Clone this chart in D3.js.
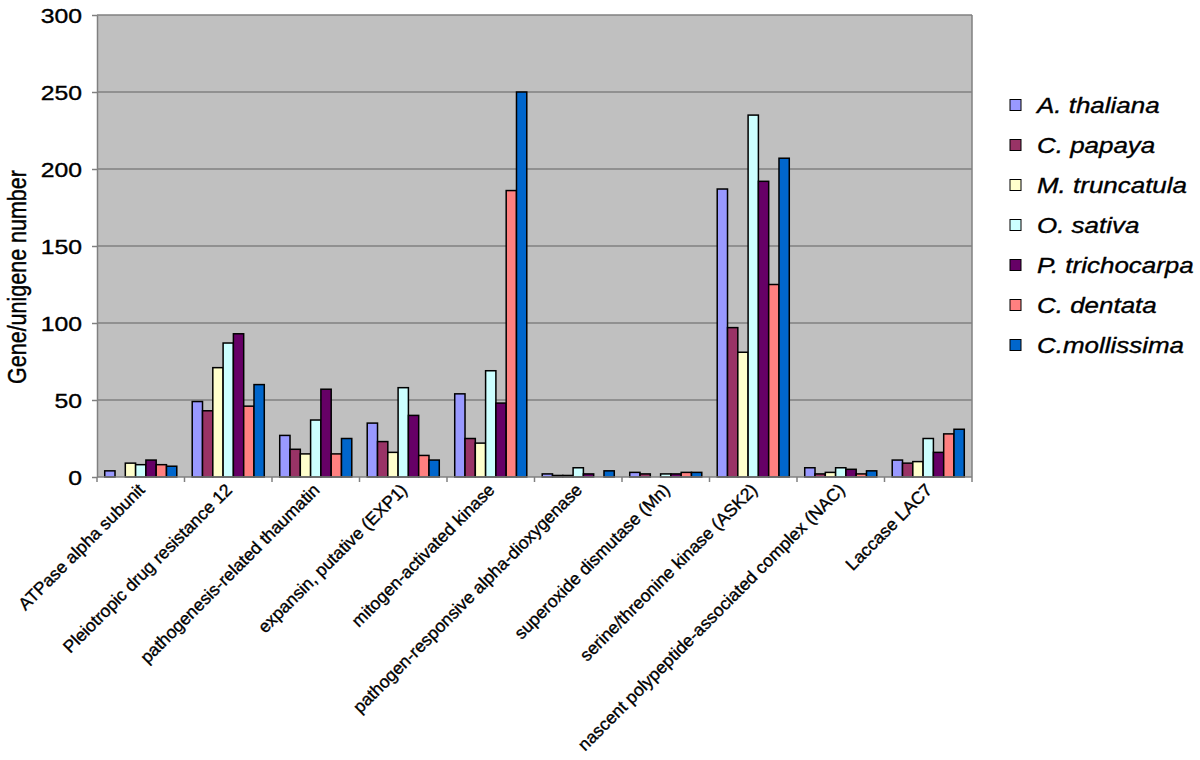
<!DOCTYPE html>
<html>
<head>
<meta charset="utf-8">
<script src="https://cdn.jsdelivr.net/npm/d3@7"></script>
<style>
  html, body { margin: 0; padding: 0; background: #fff; }
  svg { display: block; font-family: 'Liberation Sans', Arial, Helvetica, sans-serif; }
  svg text { stroke: #000; stroke-width: 0.35px; }
</style>
</head>
<body>
<div id="chart"></div>
<script>
// categories along the x axis
let categories = [
  'ATPase alpha subunit',
  'Pleiotropic drug resistance 12',
  'pathogenesis-related thaumatin',
  'expansin, putative (EXP1)',
  'mitogen-activated kinase',
  'pathogen-responsive alpha-dioxygenase',
  'superoxide dismutase (Mn)',
  'serine/threonine kinase (ASK2)',
  'nascent polypeptide-associated complex (NAC)',
  'Laccase LAC7'
]

// one array per species, same order as categories
let aThaliana = [4, 49, 27, 35, 54, 2, 3, 187, 6, 11]
let cPapaya = [0, 43, 18, 23, 25, 1, 2, 97, 2, 9]
let mTruncatula = [9, 71, 15, 16, 22, 1, 0, 81, 3, 10]
let oSativa = [8, 87, 37, 58, 69, 6, 2, 235, 6, 25]
let pTrichocarpa = [11, 93, 57, 40, 48, 2, 2, 192, 5, 16]
let cDentata = [8, 46, 15, 14, 186, 0, 3, 125, 2, 28]
let cMollissima = [7, 60, 25, 11, 250, 4, 3, 207, 4, 31]

let seriesNames = ['A. thaliana', 'C. papaya', 'M. truncatula', 'O. sativa', 'P. trichocarpa', 'C. dentata', 'C.mollissima']
let seriesValues = [aThaliana, cPapaya, mTruncatula, oSativa, pTrichocarpa, cDentata, cMollissima]
let seriesColors = ['#9999ff', '#993366', '#ffffcc', '#ccffff', '#660066', '#ff8080', '#0066cc']

let yTicks = [0, 50, 100, 150, 200, 250, 300]

const width = 1200
const height = 760
const margin = {left: 97, top: 15, right: 228, bottom: 283}
const plotW = width - margin.left - margin.right
const plotH = height - margin.top - margin.bottom
const stretch = 1.18 // the reference text is a bit wide

let svg = d3.select('#chart').append('svg')
  .attr('width', width)
  .attr('height', height)

let g = svg.append('g')
  .attr('transform', `translate(${margin.left},${margin.top})`)

let x0 = d3.scaleBand().domain(categories).range([0, plotW])
let bw = x0.bandwidth()
let x1 = d3.scaleBand().domain(seriesNames)
  .range([bw * 0.75 / 8.5, bw - bw * 0.75 / 8.5])
let y = d3.scaleLinear().domain([0, 300]).range([plotH, 0])

// plot background
g.append('rect')
  .attr('width', plotW)
  .attr('height', plotH)
  .attr('fill', '#c0c0c0')

// gridlines
g.selectAll('.grid')
  .data(yTicks.slice(1))
  .enter()
  .append('line')
  .attr('class', 'grid')
  .attr('x1', 0)
  .attr('x2', plotW)
  .attr('y1', d => y(d))
  .attr('y2', d => y(d))
  .attr('stroke', '#808080')
  .attr('stroke-width', 1.5)

// right border
g.append('line')
  .attr('x1', plotW).attr('x2', plotW)
  .attr('y1', 0).attr('y2', plotH)
  .attr('stroke', '#808080')
  .attr('stroke-width', 1.5)

// bars
let groups = g.selectAll('.group')
  .data(categories)
  .enter()
  .append('g')
  .attr('class', 'group')
  .attr('transform', d => `translate(${x0(d)},0)`)

groups.selectAll('rect')
  .data((d, i) => seriesNames.map((s, k) => ({s, k, v: seriesValues[k][i]})))
  .enter()
  .filter(d => d.v > 0)
  .append('rect')
  .attr('x', d => x1(d.s))
  .attr('width', x1.bandwidth())
  .attr('y', d => y(d.v))
  .attr('height', d => plotH - y(d.v))
  .attr('fill', d => seriesColors[d.k])
  .attr('stroke', '#000')
  .attr('stroke-width', 1.5)

// y axis
let yAxis = g.append('g')
  .call(d3.axisLeft(y).tickValues(yTicks).tickSize(5).tickSizeOuter(0))
yAxis.select('.domain').attr('stroke', '#808080').attr('stroke-width', 1.5)
yAxis.selectAll('.tick line').attr('stroke', '#808080').attr('stroke-width', 1.5)
yAxis.selectAll('.tick text')
  .attr('x', null)
  .attr('dy', null)
  .attr('font-size', 21)
  .attr('fill', '#000')
  .attr('text-anchor', 'end')
  .attr('dominant-baseline', 'central')
  .attr('transform', `translate(-15,0) scale(${stretch},1)`)

// x axis, ticks between categories
let xAxis = g.append('g').attr('transform', `translate(0,${plotH})`)
xAxis.append('line')
  .attr('x1', 0).attr('x2', plotW)
  .attr('stroke', '#808080')
  .attr('stroke-width', 1.5)
xAxis.selectAll('.xtick')
  .data(d3.range(categories.length + 1))
  .enter()
  .append('line')
  .attr('class', 'xtick')
  .attr('x1', d => d * bw)
  .attr('x2', d => d * bw)
  .attr('y1', 0)
  .attr('y2', 5)
  .attr('stroke', '#808080')
  .attr('stroke-width', 1.5)
xAxis.selectAll('.xlabel')
  .data(categories)
  .enter()
  .append('text')
  .attr('class', 'xlabel')
  .attr('transform', d => `translate(${x0(d) + bw / 2 + 5},${14}) rotate(-45)`)
  .attr('text-anchor', 'end')
  .attr('font-size', 17.5)
  .attr('fill', '#000')
  .text(d => d)

// y title
svg.append('text')
  .attr('transform', `translate(17,277) scale(${stretch},1) rotate(-90)`)
  .attr('text-anchor', 'middle')
  .attr('dominant-baseline', 'central')
  .attr('font-size', 21.5)
  .text('Gene/unigene number')

// legend
let legend = svg.selectAll('.legend')
  .data(seriesNames)
  .enter()
  .append('g')
  .attr('class', 'legend')
  .attr('transform', (d, i) => `translate(1010,${105 + i * 40})`)
legend.append('rect')
  .attr('y', -5.5)
  .attr('width', 11)
  .attr('height', 11)
  .attr('fill', (d, i) => seriesColors[i])
  .attr('stroke', '#000')
legend.append('text')
  .attr('transform', `translate(27,0) scale(${stretch},1)`)
  .attr('dominant-baseline', 'central')
  .attr('font-size', 22)
  .attr('font-style', 'italic')
  .text(d => d)
</script>
</body>
</html>
